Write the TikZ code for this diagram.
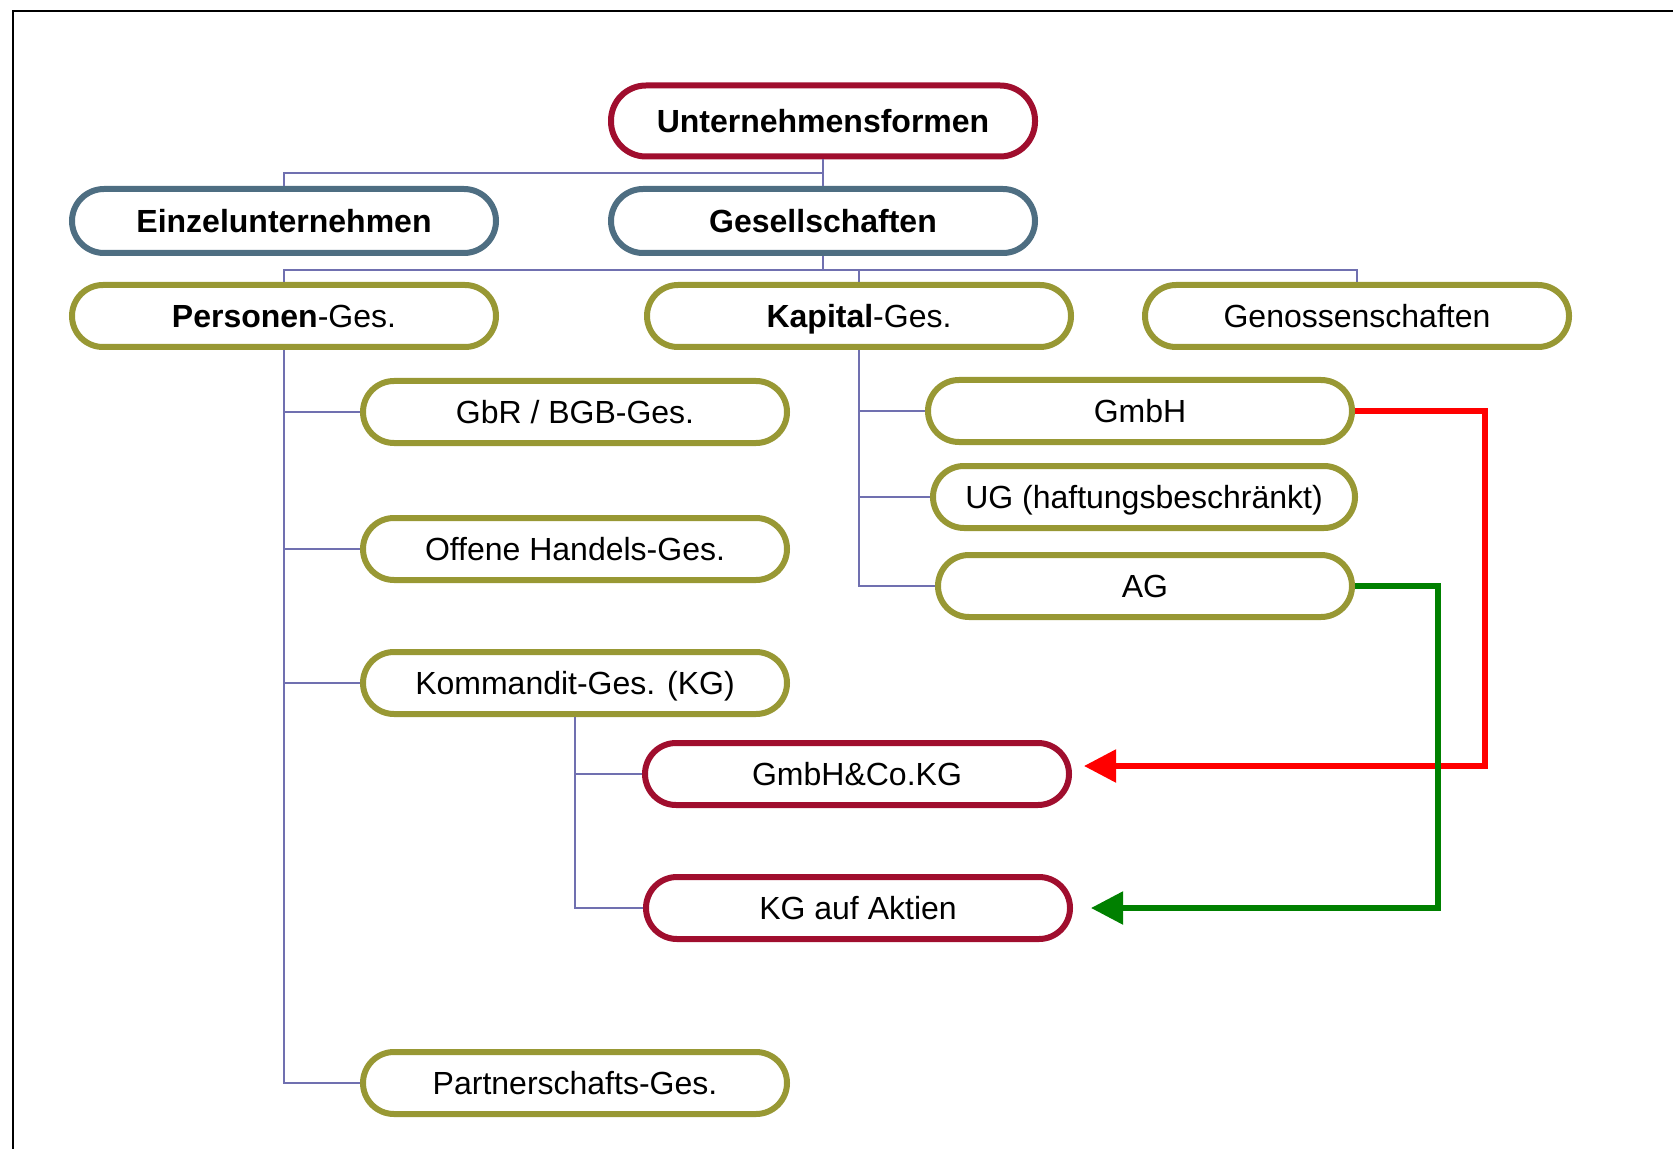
\documentclass[tikz,border=0pt]{standalone}
\usepackage{fontspec}
\setmainfont{Liberation Sans}
\usetikzlibrary{arrows.meta}

\definecolor{formred}{RGB}{160,14,46}
\definecolor{formblue}{RGB}{78,110,130}
\definecolor{formolive}{RGB}{152,152,52}
\definecolor{treeline}{RGB}{112,112,176}

\tikzset{
  form/.style = {draw, fill = white, line width = 3pt, inner sep = 0pt,
                 text height = 11.5pt, text depth = 0pt,
                 minimum width = 212pt, minimum height = 31pt, rounded corners = 15.5pt,
                 font = \fontsize{16}{18}\selectfont},
  topform/.style = {form, draw = formred, minimum height = 35.5pt, rounded corners = 17.5pt,
                    font = \fontsize{16}{18}\selectfont\bfseries},
  groupform/.style = {form, draw = formblue, minimum height = 32pt, rounded corners = 16pt,
                      font = \fontsize{16}{18}\selectfont\bfseries},
  oliveform/.style = {form, draw = formolive},
  redform/.style = {form, draw = formred},
  tree/.style = {draw = treeline, line width = 0.75pt},
  link/.style = {line width = 2.7pt, -{Triangle[length = 16pt, width = 16pt]}}
}

\begin{document}
\begin{tikzpicture}[x = 0.5pt, y = -0.5pt]
\useasboundingbox (0,0) rectangle (1673,1149);
\draw[line width = 1.3pt] (13,1149) -- (13,11) -- (1673,11);

% top levels
\node[topform]   (ufo)      at (823,121)  {Unternehmensformen};
\node[groupform] (einzel)   at (284,221)  {Einzelunternehmen};
\node[groupform] (gesell)   at (823,221)  {Gesellschaften};
\node[oliveform] (personen) at (284,316)  {\textbf{Personen}-Ges.};
\node[oliveform] (kapital)  at (859,316)  {\textbf{Kapital}-Ges.};
\node[oliveform] (genoss)   at (1357,316) {Genossenschaften};

% Personengesellschaften
\node[oliveform] (gbr)      at (575,412)  {GbR / BGB-Ges.};
\node[oliveform] (ohg)      at (575,549)  {Offene Handels-Ges.};
\node[oliveform] (kg)       at (575,683)  {Kommandit-Ges. (KG)};
\node[oliveform] (partner)  at (575,1083) {Partnerschafts-Ges.};

% Kapitalgesellschaften
\node[oliveform]                        (gmbh) at (1140,411) {GmbH};
\node[oliveform, minimum width = 211pt] (ug)   at (1144,497) {UG (haftungsbeschränkt)};
\node[oliveform, minimum width = 207pt] (ag)   at (1145,586) {AG};

% Mischformen
\node[redform] (gmbhco) at (857,774) {GmbH\&Co.KG};
\node[redform] (kgaa)   at (858,908) {KG auf Aktien};

\coordinate (bar1) at (823,173);
\coordinate (bar2) at (823,270);
\coordinate (rbot) at (1485,766);
\coordinate (gbot) at (1438,908);

\draw[tree] (ufo.south) -- (gesell.north);
\draw[tree] (bar1) -| (einzel.north);
\draw[tree] (gesell.south) -- (bar2);
\draw[tree] (personen.north) |- (genoss.north |- bar2) -- (genoss.north);
\draw[tree] (kapital.north |- bar2) -- (kapital.north);

\draw[tree] (personen.south) |- (partner.west);
\foreach \n in {gbr, ohg, kg}
   \draw[tree] (personen.south |- \n.west) -- (\n.west);

\draw[tree] (kapital.south) |- (ag.west);
\foreach \n in {gmbh, ug}
   \draw[tree] (kapital.south |- \n.west) -- (\n.west);

\draw[tree] (kg.south) |- (kgaa.west);
\draw[tree] (kg.south |- gmbhco.west) -- (gmbhco.west);

\draw[link, red, shorten > = 6pt] (gmbh.east) -| (rbot) -- (gmbhco.east |- rbot);
\draw[link, green!50!black, shorten > = 9pt] (ag.east) -| (gbot) -- (kgaa.east);
\end{tikzpicture}
\end{document}
